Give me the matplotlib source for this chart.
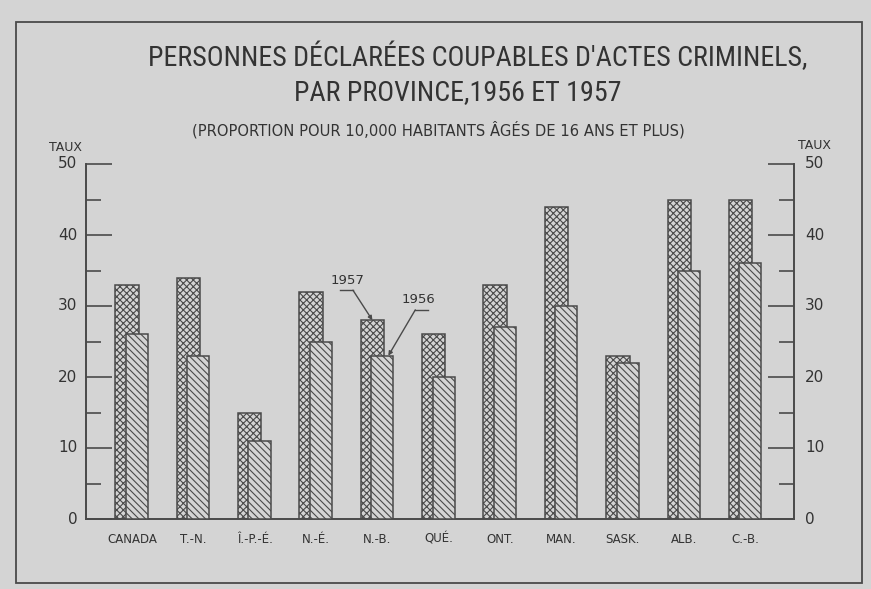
import matplotlib
matplotlib.use("Agg")
import matplotlib.pyplot as plt
from matplotlib.patches import Rectangle
from matplotlib.ticker import MultipleLocator
from matplotlib.transforms import offset_copy
from matplotlib import font_manager
import numpy as np

categories = ["CANADA", "T.-N.", "Î.-P.-É.", "N.-É.", "N.-B.", "QUÉ.", "ONT.",
              "MAN.", "SASK.", "ALB.", "C.-B."]
rate_1957 = [33, 34, 15, 32, 28, 26, 33, 44, 23, 45, 45]
rate_1956 = [26, 23, 11, 25, 23, 20, 27, 30, 22, 35, 36]
yticks = [0, 10, 20, 30, 40, 50]

BG = "#d4d4d4"
INK = "#4a4a4a"
TXT = "#333333"
plt.rcParams['font.family'] = ['DejaVu Sans']
plt.rcParams['hatch.color'] = "#555555"
plt.rcParams['hatch.linewidth'] = 0.8

names = {f.name for f in font_manager.fontManager.ttflist}
TITLE_FONT = 'DejaVu Sans'
for cand in ['Roboto Condensed', 'DejaVu Sans Condensed', 'Liberation Sans Narrow',
             'Open Sans Condensed', 'Roboto']:
    if cand in names:
        TITLE_FONT = cand
        break

fig = plt.figure(figsize=(8.71, 5.89), dpi=100, facecolor=BG)
W, H = 871, 589


def fx(px):
    return px / W


def fy(py):
    return 1 - py / H


ax = fig.add_axes([fx(85.5), fy(519), fx(794) - fx(85.5), fy(164) - fy(519)])
ax.set_facecolor(BG)

x = np.arange(len(categories))
x57 = x - 0.08
x56 = x + 0.08
ax.bar(x57, rate_1957, width=0.38, color=BG, edgecolor=INK,
       linewidth=1.1, hatch="xxxxx", zorder=2)
ax.bar(x56, rate_1956, width=0.36, color=BG, edgecolor=INK,
       linewidth=1.1, hatch="\\\\\\\\\\", zorder=3)

ax.set_xlim(-0.755, 10.79)
ax.set_ylim(0, 50)
ax.spines['top'].set_visible(False)
for s in ['left', 'right', 'bottom']:
    ax.spines[s].set_color(INK)
    ax.spines[s].set_linewidth(1.4)

ax.set_xticks(x)
ax.set_xticklabels(categories, fontsize=8.5, color=TXT)
ax.tick_params(axis='x', length=0, pad=10)

ax.yaxis.set_major_locator(MultipleLocator(10))
ax.yaxis.set_minor_locator(MultipleLocator(5))
ax.tick_params(axis='y', which='major', direction='in', length=19, width=1.2,
               color=INK, left=True, right=True, labelleft=False, labelright=False)
ax.tick_params(axis='y', which='minor', direction='in', length=11, width=1.2,
               color=INK, left=True, right=True)

for v in yticks:
    ax.annotate(f"{v}", xy=(0, v), xycoords=('axes fraction', 'data'),
                xytext=(-6, 0), textcoords='offset points', ha='right', va='center',
                fontsize=11, color=TXT)
    ax.annotate(f"{v}", xy=(1, v), xycoords=('axes fraction', 'data'),
                xytext=(8, 0), textcoords='offset points', ha='left', va='center',
                fontsize=11, color=TXT)
ax.annotate("TAUX", xy=(0, 50), xycoords=('axes fraction', 'data'),
            xytext=(-2.5, 12), textcoords='offset points', ha='right', va='center',
            fontsize=9, color=TXT)
ax.annotate("TAUX", xy=(1, 50), xycoords=('axes fraction', 'data'),
            xytext=(3, 13), textcoords='offset points', ha='left', va='center',
            fontsize=9, color=TXT)


def leader(xd, yd, dx1, dx2, dy):
    t1 = offset_copy(ax.transData, fig=fig, x=dx1, y=dy, units='points')
    t2 = offset_copy(ax.transData, fig=fig, x=dx2, y=dy, units='points')
    inv = fig.transFigure.inverted()
    a = inv.transform(t1.transform((xd, yd)))
    b = inv.transform(t2.transform((xd, yd)))
    fig.add_artist(plt.Line2D([a[0], b[0]], [a[1], b[1]], color=INK, lw=1.0,
                              transform=fig.transFigure))


i = categories.index("N.-B.")
ax.annotate("1957", xy=(x57[i], rate_1957[i]),
            xytext=(-18, 24), textcoords='offset points', ha='center', va='bottom',
            fontsize=9.5, color=TXT)
ax.annotate("", xy=(x57[i], rate_1957[i]), xytext=(-14, 21.6),
            textcoords='offset points',
            arrowprops=dict(arrowstyle='-|>', color=INK, lw=1.0, mutation_scale=6,
                            shrinkA=0, shrinkB=0))
leader(x57[i], rate_1957[i], -23, -14, 21.6)

x56_tip = x56[i] + 0.1
ax.annotate("1956", xy=(x56_tip, rate_1956[i]),
            xytext=(22, 35.5), textcoords='offset points', ha='center', va='bottom',
            fontsize=9.5, color=TXT)
ax.annotate("", xy=(x56_tip, rate_1956[i]), xytext=(19.4, 33),
            textcoords='offset points',
            arrowprops=dict(arrowstyle='-|>', color=INK, lw=1.0, mutation_scale=6,
                            shrinkA=0, shrinkB=0))
leader(x56_tip, rate_1956[i], 19.4, 28.8, 33)

renderer = fig.canvas.get_renderer()


def fitted_text(x0, x1, ypix, s, size, family, **kw):
    t = fig.text(0.5 * (fx(x0) + fx(x1)), fy(ypix), s, ha='center', va='center',
                 fontsize=size, color=TXT, family=family, **kw)
    w = t.get_window_extent(renderer).width
    t.set_fontsize(size * (x1 - x0) / w)
    return t


t1 = fitted_text(147, 808, 57, "PERSONNES DÉCLARÉES COUPABLES D'ACTES CRIMINELS,", 20, TITLE_FONT)
fig.text(0.5 * (fx(258) + fx(658)), fy(93), "PAR PROVINCE,1956 ET 1957",
         ha='center', va='center', fontsize=t1.get_fontsize(), color=TXT, family=TITLE_FONT)
fitted_text(192, 685, 130, "(PROPORTION POUR 10,000 HABITANTS ÂGÉS DE 16 ANS ET PLUS)",
            10.5, 'DejaVu Sans')

fig.add_artist(Rectangle((fx(16), fy(583)), fx(862) - fx(16), fy(22) - fy(583),
                         transform=fig.transFigure, fill=False, edgecolor=INK, lw=1.3))

fig.savefig("out.png", dpi=100, facecolor=BG)
